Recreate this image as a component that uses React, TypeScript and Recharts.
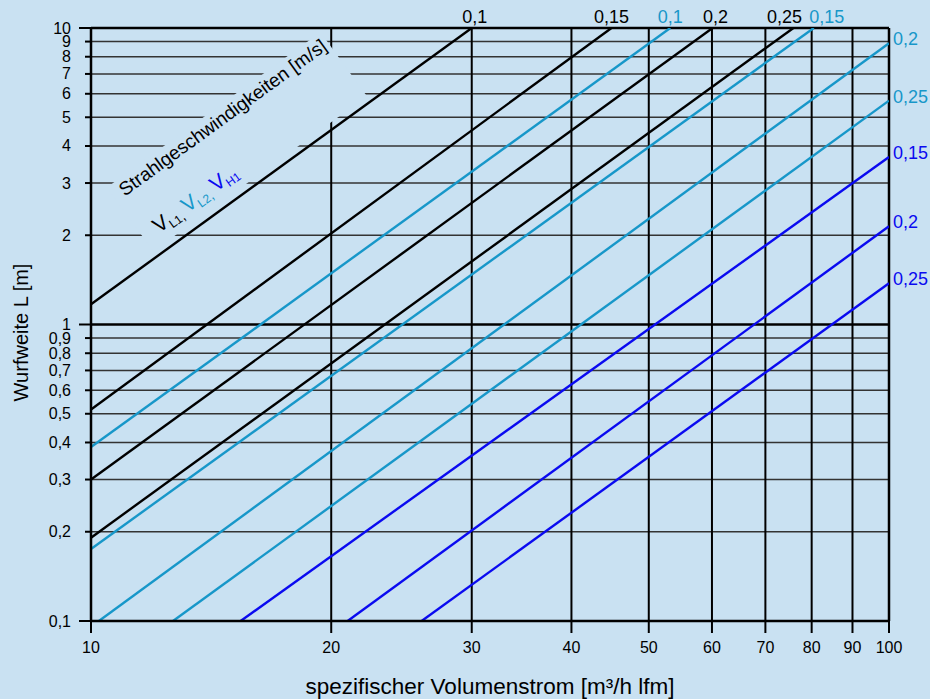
import React from "react";
import {
  LineChart,
  Line,
  XAxis,
  YAxis,
  ReferenceLine,
  ReferenceDot,
  LabelList,
  Label,
} from "recharts";

const BG = "#c9e1f2";
const FONT = "'Liberation Sans', Arial, sans-serif";
const BLACK = "#000000";
const CYAN = "#1797c9";
const BLUE = "#0a0af0";

// axis ticks
const xTicks = [10, 20, 30, 40, 50, 60, 70, 80, 90, 100];
const yTicks = [0.1, 0.2, 0.3, 0.4, 0.5, 0.6, 0.7, 0.8, 0.9, 1, 2, 3, 4, 5, 6, 7, 8, 9, 10];

// V_L1 (black) - [Volumenstrom, Wurfweite] at both ends of each line
const l1Labels = ["0,1", "0,15", "0,2", "0,25"];
const l1Start = [[10, 1.17], [10, 0.517], [10, 0.3], [10, 0.191]];
const l1End = [[30, 10], [44.9, 10], [60.1, 10], [75.9, 10]];

// V_L2 (cyan)
const l2Labels = ["0,1", "0,15", "0,2", "0,25"];
const l2Start = [[10, 0.386], [10, 0.175], [10.23, 0.1], [12.67, 0.1]];
const l2End = [[53.2, 10], [80.5, 10], [100, 8.89], [100, 5.69]];

// V_H1 (blue)
const h1Labels = ["0,15", "0,2", "0,25"];
const h1Start = [[15.4, 0.1], [20.97, 0.1], [25.96, 0.1]];
const h1End = [[100, 3.67], [100, 2.145], [100, 1.378]];

// label nudges (px) for labels sitting on the top border
const l1Nudge = [3, 0, 3, -9];
const l2Nudge = [0, 13, 0, 0];

const build = (labels: string[], start: number[][], end: number[][]) =>
  labels.map((lbl, i) => [
    { v: start[i][0], L: start[i][1], lbl: "" },
    { v: end[i][0], L: end[i][1], lbl },
  ]);

const l1Series = build(l1Labels, l1Start, l1End);
const l2Series = build(l2Labels, l2Start, l2End);
const h1Series = build(h1Labels, h1Start, h1End);

const fmt = (v: number) => String(v).replace(".", ",");

const endLabel = (color: string, dx: number) => (p: any) => {
  if (!p.value) return null;
  const x = p.x ?? p.viewBox?.x;
  const y = p.y ?? p.viewBox?.y;
  // lines ending at the right border get their label to the right
  if (x > 880) {
    return (
      <text x={x + 4} y={y - 4} fill={color} fontSize={18} fontFamily={FONT} dominantBaseline="central">
        {p.value}
      </text>
    );
  }
  return (
    <text x={x + dx} y={y - 5} fill={color} fontSize={18} fontFamily={FONT} textAnchor="middle">
      {p.value}
    </text>
  );
};

const YTick = (props: any) => {
  const { x, y, payload } = props;
  const major = [0.1, 1, 10].includes(payload.value);
  return (
    <g>
      <line x1={x - (major ? 12 : 6)} x2={x} y1={y} y2={y} stroke={BLACK} strokeWidth={2} />
      <text x={x - 20} y={y} textAnchor="end" dominantBaseline="central" fontSize={16} fontFamily={FONT} fill={BLACK}>
        {fmt(payload.value)}
      </text>
    </g>
  );
};

// background patch with the rotated caption, sits over the grid and under the lines
const Caption = (p: any) => (
  <g transform={`translate(${p.cx},${p.cy}) rotate(-36)`} fontFamily={FONT}>
    <rect x={0} y={0} width={264} height={79} fill={BG} />
    <text x={9} y={18} fontSize={19} fill={BLACK}>
      Strahlgeschwindigkeiten [m/s]
    </text>
    <text x={15} y={68} fontSize={21}>
      <tspan fill={BLACK}>V</tspan>
      <tspan fill={BLACK} fontSize={12} dy={4}>L1</tspan>
      <tspan fill={BLACK} fontSize={14}>, </tspan>
      <tspan fill={CYAN} dy={-4}>V</tspan>
      <tspan fill={CYAN} fontSize={12} dy={4}>L2</tspan>
      <tspan fill={CYAN} fontSize={14}>, </tspan>
      <tspan fill={BLUE} dy={-4}>V</tspan>
      <tspan fill={BLUE} fontSize={12} dy={4}>H1</tspan>
    </text>
  </g>
);

export default function App() {
  return (
    <div style={{ position: "absolute", left: 0, top: 0, width: 930, height: 699, background: BG }}>
      <LineChart width={930} height={699} margin={{ top: 28, right: 41, bottom: 0, left: 0 }}>
        <XAxis
          dataKey="v"
          type="number"
          scale="log"
          domain={[10, 100]}
          ticks={xTicks}
          interval={0}
          allowDataOverflow
          height={78}
          tickSize={12}
          tickMargin={9}
          tickLine={{ stroke: BLACK, strokeWidth: 2 }}
          axisLine={{ stroke: BLACK, strokeWidth: 2.5 }}
          tick={{ fill: BLACK, fontSize: 16, fontFamily: FONT }}
        >
          <Label
            value="spezifischer Volumenstrom [m³/h lfm]"
            position="insideBottom"
            offset={5}
            fill={BLACK}
            fontSize={22.5}
            fontFamily={FONT}
          />
        </XAxis>
        <YAxis
          dataKey="L"
          type="number"
          scale="log"
          domain={[0.1, 10]}
          ticks={yTicks}
          interval={0}
          allowDataOverflow
          width={91}
          tickSize={0}
          tickMargin={0}
          tickLine={false}
          axisLine={{ stroke: BLACK, strokeWidth: 2.5 }}
          tick={<YTick />}
        >
          <Label
            content={(p: any) => {
              const vb = p.viewBox;
              const cx = vb.x + 28;
              const cy = vb.y + vb.height / 2 + 8;
              return (
                <text
                  x={cx}
                  y={cy}
                  transform={`rotate(-90 ${cx} ${cy})`}
                  textAnchor="middle"
                  fontSize={20}
                  fontFamily={FONT}
                  fill={BLACK}
                >
                  Wurfweite L [m]
                </text>
              );
            }}
          />
        </YAxis>

        {yTicks
          .filter((t) => t > 0.1)
          .map((t) => {
            const major = t === 1 || t === 10;
            return (
              <ReferenceLine
                key={"h" + t}
                y={t}
                stroke={major ? BLACK : "#333333"}
                strokeWidth={major ? 2.5 : 1.5}
                zIndex={50}
              />
            );
          })}
        {xTicks
          .filter((t) => t > 10)
          .map((t) => (
            <ReferenceLine key={"v" + t} x={t} stroke={BLACK} strokeWidth={t === 100 ? 2.5 : 2} zIndex={50} />
          ))}

        <ReferenceDot x={10.47} y={2.9} r={0} shape={Caption} zIndex={60} />

        {l1Series.map((d, i) => (
          <Line
            key={"l1" + i}
            data={d}
            dataKey="L"
            stroke={BLACK}
            strokeWidth={2.4}
            dot={false}
            activeDot={false}
            isAnimationActive={false}
          >
            <LabelList dataKey="lbl" content={endLabel(BLACK, l1Nudge[i])} />
          </Line>
        ))}
        {l2Series.map((d, i) => (
          <Line
            key={"l2" + i}
            data={d}
            dataKey="L"
            stroke={CYAN}
            strokeWidth={2.4}
            dot={false}
            activeDot={false}
            isAnimationActive={false}
          >
            <LabelList dataKey="lbl" content={endLabel(CYAN, l2Nudge[i])} />
          </Line>
        ))}
        {h1Series.map((d, i) => (
          <Line
            key={"h1" + i}
            data={d}
            dataKey="L"
            stroke={BLUE}
            strokeWidth={2.4}
            dot={false}
            activeDot={false}
            isAnimationActive={false}
          >
            <LabelList dataKey="lbl" content={endLabel(BLUE, 0)} />
          </Line>
        ))}
      </LineChart>
    </div>
  );
}
